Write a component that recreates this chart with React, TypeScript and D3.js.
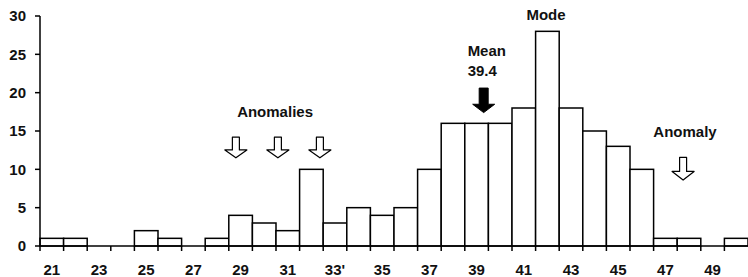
import React from 'react';
import * as d3 from 'd3';

// bins 21..50, one unit wide
const binStarts = [21, 22, 23, 24, 25, 26, 27, 28, 29, 30, 31, 32, 33, 34, 35, 36, 37, 38, 39, 40, 41, 42, 43, 44, 45, 46, 47, 48, 49, 50];
const counts = [1, 1, 0, 0, 2, 1, 0, 1, 4, 3, 2, 10, 3, 5, 4, 5, 10, 16, 16, 16, 18, 28, 18, 15, 13, 10, 1, 1, 0, 1];
const xTickValues = [21, 23, 25, 27, 29, 31, 33, 35, 37, 39, 41, 43, 45, 47, 49];
const xTickLabels = ['21', '23', '25', '27', '29', '31', "33'", '35', '37', '39', '41', '43', '45', '47', '49'];
const yTicks = [0, 5, 10, 15, 20, 25, 30];

// annotation arrows: x centre, top, tip in data units
const hollowArrows = [
  { x: 29.3, top: 14.2, tip: 11.5 },
  { x: 31.08, top: 14.2, tip: 11.5 },
  { x: 32.86, top: 14.2, tip: 11.5 },
  { x: 48.25, top: 11.55, tip: 8.6 },
];
const meanArrow = { x: 39.8, top: 20.6, tip: 17.4 };
const labels = [
  { text: 'Anomalies', x: 30.96, y: 16.8, anchor: 'middle' },
  { text: 'Mean', x: 39.12, y: 24.8, anchor: 'start' },
  { text: '39.4', x: 39.12, y: 22.2, anchor: 'start' },
  { text: 'Mode', x: 42.44, y: 29.5, anchor: 'middle' },
  { text: 'Anomaly', x: 48.33, y: 14.2, anchor: 'middle' },
];

const width = 748;
const height = 277;
const margin = { top: 16, left: 40, bottom: 31 };
const font = '"Liberation Sans", Arial, sans-serif';

export default function App() {
  const x = d3.scaleLinear().domain([21, 51]).range([margin.left, width]);
  const y = d3.scaleLinear().domain([0, 30]).range([height - margin.bottom, margin.top]);
  const base = y(0);

  const arrowPath = (a: { x: number; top: number; tip: number }, shaft: number, head: number, frac: number) => {
    const cx = x(a.x);
    const t = y(a.top);
    const b = y(a.tip);
    const sy = b - (b - t) * frac;
    return `M${cx - shaft / 2},${t} L${cx + shaft / 2},${t} L${cx + shaft / 2},${sy} L${cx + head / 2},${sy} L${cx},${b} L${cx - head / 2},${sy} L${cx - shaft / 2},${sy} Z`;
  };

  return (
    <svg width={width} height={height} style={{ position: 'absolute', left: 0, top: 0, background: '#fff' }}>
      {/* bars */}
      {binStarts.map((s, i) =>
        counts[i] > 0 ? (
          <rect
            key={s}
            x={x(s)}
            y={y(counts[i])}
            width={x(s + 1) - x(s)}
            height={base - y(counts[i])}
            fill="#fff"
            stroke="#000"
            strokeWidth={1.5}
          />
        ) : null
      )}

      {/* y axis */}
      <line x1={margin.left} x2={margin.left} y1={y(30)} y2={base} stroke="#000" strokeWidth={1.5} />
      {yTicks.map(t => (
        <g key={t}>
          <line x1={margin.left - 5} x2={margin.left} y1={y(t)} y2={y(t)} stroke="#000" strokeWidth={1.5} />
          <text x={margin.left - 14} y={y(t)} dy="0.35em" textAnchor="end" fontFamily={font} fontWeight="bold" fontSize={15} fill="#111">
            {t}
          </text>
        </g>
      ))}

      {/* x axis */}
      <line x1={margin.left} x2={width} y1={base} y2={base} stroke="#000" strokeWidth={1.5} />
      {binStarts.map(s => (
        <line key={s} x1={x(s)} x2={x(s)} y1={base} y2={base + 5} stroke="#000" strokeWidth={1.5} />
      ))}
      {xTickValues.map((v, i) => (
        <text key={v} x={x(v + 0.5)} y={base + 29} textAnchor="middle" fontFamily={font} fontWeight="bold" fontSize={15} fill="#111">
          {xTickLabels[i]}
        </text>
      ))}

      {/* annotations */}
      {hollowArrows.map((a, i) => (
        <path key={i} d={arrowPath(a, 7, 22, 0.38)} fill="#fff" stroke="#000" strokeWidth={1.2} strokeLinejoin="round" />
      ))}
      <path d={arrowPath(meanArrow, 9, 22, 0.34)} fill="#000" stroke="#000" strokeWidth={1} />
      {labels.map(l => (
        <text key={l.text} x={x(l.x)} y={y(l.y)} textAnchor={l.anchor} fontFamily={font} fontWeight="bold" fontSize={15} fill="#111">
          {l.text}
        </text>
      ))}
    </svg>
  );
}
